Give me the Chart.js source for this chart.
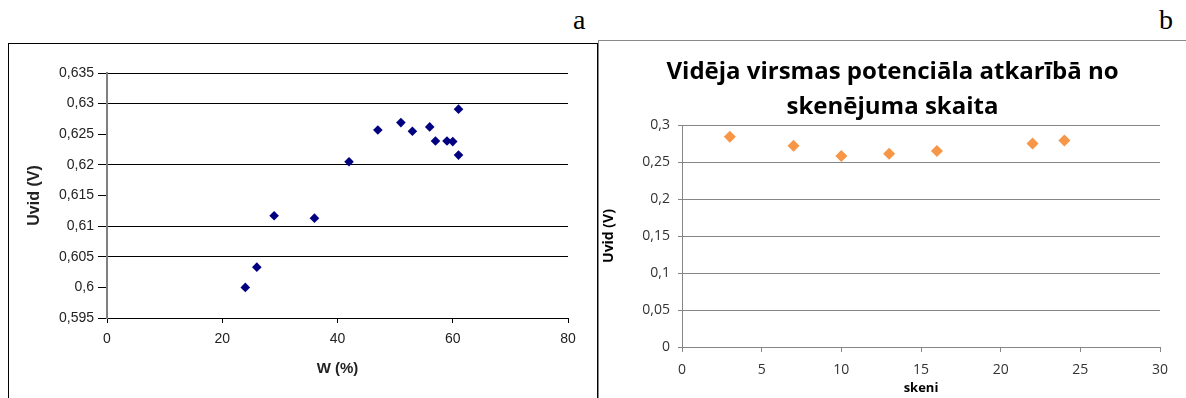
<!DOCTYPE html>
<html lang="lv">
<head>
<meta charset="UTF-8">
<title>Uvid grafiki</title>
<script src="https://cdn.jsdelivr.net/npm/chart.js"></script>
<style>
    body {
        margin: 0;
        width: 1186px;
        height: 398px;
        overflow: hidden;
        background: #fff;
        position: relative;
    }
    .frame-a {
        position: absolute;
        left: 8px;
        top: 43px;
        width: 588px;
        height: 400px;
        border: 1px solid #000;
        border-bottom: none;
    }
    .frame-b {
        position: absolute;
        left: 598px;
        top: 40px;
        width: 600px;
        height: 400px;
        border-top: 1px solid #888;
        border-left: 1px solid #888;
    }
    .letter {
        position: absolute;
        top: 4px;
        font-family: "Liberation Serif", "DejaVu Serif", serif;
        font-size: 28px;
        color: #000;
    }
    canvas {
        position: absolute;
    }
</style>
</head>
<body>
    <div class="frame-a"></div>
    <div class="frame-b"></div>
    <div class="letter" style="left:573px;">a</div>
    <div class="letter" style="left:1159px;">b</div>
    <canvas id="chartA" width="587" height="354" style="left:9px; top:44px;"></canvas>
    <canvas id="chartB" width="587" height="357" style="left:599px; top:41px;"></canvas>

<script>
    // a: Uvid atkarībā no mitruma W (%)
    const wValues = [24, 26, 29, 36, 42, 47, 51, 53, 56, 57, 59, 60, 61, 61];
    const uvidA = [0.6000, 0.6033, 0.6117, 0.6113, 0.6205, 0.6257, 0.6269, 0.6255, 0.6262, 0.6239, 0.6239, 0.6238, 0.6291, 0.6216];

    // b: Uvid atkarībā no skenējumu skaita
    const skeni = [3, 7, 10, 13, 16, 22, 24];
    const uvidB = [0.284, 0.272, 0.258, 0.261, 0.265, 0.275, 0.279];

    const titleB = ['Vidēja virsmas potenciāla atkarībā no', 'skenējuma skaita'];

    // gridlines that are missing in the original picture
    const noGridA = [0.625, 0.615, 0.6];

    function comma(v) {
        return Number(v.toFixed(4)).toString().replace('.', ',');
    }

    function toPoints(xs, ys) {
        return xs.map((x, i) => ({ x: x, y: ys[i] }));
    }

    const arialA = 'Arial, "Liberation Sans", sans-serif';
    const calibriB = '"Open Sans", Lato, sans-serif';

    new Chart(document.getElementById('chartA'), {
        type: 'scatter',
        data: {
            datasets: [{
                data: toPoints(wValues, uvidA),
                pointStyle: 'rectRot',
                pointRadius: 4.8,
                backgroundColor: '#000080',
                borderColor: '#000080',
                borderWidth: 0
            }]
        },
        options: {
            responsive: false,
            animation: false,
            layout: { padding: { top: 29, right: 28, left: 0, bottom: 0 } },
            plugins: { legend: { display: false }, tooltip: { enabled: false } },
            scales: {
                x: {
                    min: 0, max: 80,
                    afterFit: (s) => { s.height = 80; },
                    ticks: { stepSize: 20, color: '#222', padding: 8, font: { family: arialA, size: 14 } },
                    grid: { drawOnChartArea: false, drawTicks: true, tickLength: 5, tickColor: '#000' },
                    border: { color: '#000', width: 1 },
                    title: { display: true, text: 'W (%)', color: '#222', font: { family: arialA, size: 15, weight: 'bold' }, padding: { top: 0, bottom: 20 } }
                },
                y: {
                    min: 0.595, max: 0.635,
                    afterFit: (s) => { s.width = 98; },
                    ticks: { stepSize: 0.005, color: '#222', padding: 4, font: { family: arialA, size: 14 }, callback: (v) => comma(v) },
                    grid: {
                        color: (c) => (c.tick && noGridA.some(g => Math.abs(g - c.tick.value) < 1e-6)) ? 'rgba(0,0,0,0)' : '#000',
                        tickColor: '#000',
                        tickLength: 9
                    },
                    border: { color: '#808080', width: 2 },
                    title: { display: true, text: 'Uvid (V)', color: '#222', font: { family: arialA, size: 16, weight: 'bold' }, padding: { top: 16, bottom: 0 } }
                }
            }
        }
    });

    new Chart(document.getElementById('chartB'), {
        type: 'scatter',
        data: {
            datasets: [{
                data: toPoints(skeni, uvidB),
                pointStyle: 'rectRot',
                pointRadius: 6,
                backgroundColor: '#F79646',
                borderColor: '#F79646',
                borderWidth: 0
            }]
        },
        options: {
            responsive: false,
            animation: false,
            layout: { padding: 0 },
            plugins: {
                legend: { display: false },
                tooltip: { enabled: false },
                title: {
                    display: true,
                    text: titleB,
                    color: '#000',
                    font: { family: calibriB, size: 24, weight: 'bold', lineHeight: 1.45 },
                    padding: { top: 14, bottom: 0.4 }
                }
            },
            scales: {
                x: {
                    min: 0, max: 30,
                    afterFit: (s) => { s.height = 51; },
                    ticks: { stepSize: 5, color: '#333', padding: 10, font: { family: calibriB, size: 14 } },
                    grid: { drawOnChartArea: false, drawTicks: true, tickLength: 5, tickColor: '#868686' },
                    border: { color: '#868686', width: 1 },
                    title: { display: true, text: 'skeni', color: '#000', font: { family: calibriB, size: 13, weight: 'bold' }, padding: { top: 0, bottom: 2 } }
                },
                y: {
                    min: 0, max: 0.3,
                    afterFit: (s) => { s.width = 83; },
                    ticks: { stepSize: 0.05, color: '#333', padding: 8, font: { family: calibriB, size: 14 }, callback: (v) => comma(v) },
                    grid: { color: '#868686', tickColor: '#868686', tickLength: 4 },
                    border: { color: '#868686', width: 1 },
                    title: { display: true, text: 'Uvid (V)', color: '#000', font: { family: calibriB, size: 14, weight: 'bold' }, padding: { top: 2, bottom: 0 } }
                },
                // empty right-hand spacer so the title stays centred on the whole panel
                yRight: {
                    position: 'right',
                    min: 0, max: 0.3,
                    afterFit: (s) => { s.width = 26; },
                    ticks: { display: false },
                    grid: { display: false },
                    border: { display: false }
                }
            }
        }
    });
</script>
</body>
</html>
